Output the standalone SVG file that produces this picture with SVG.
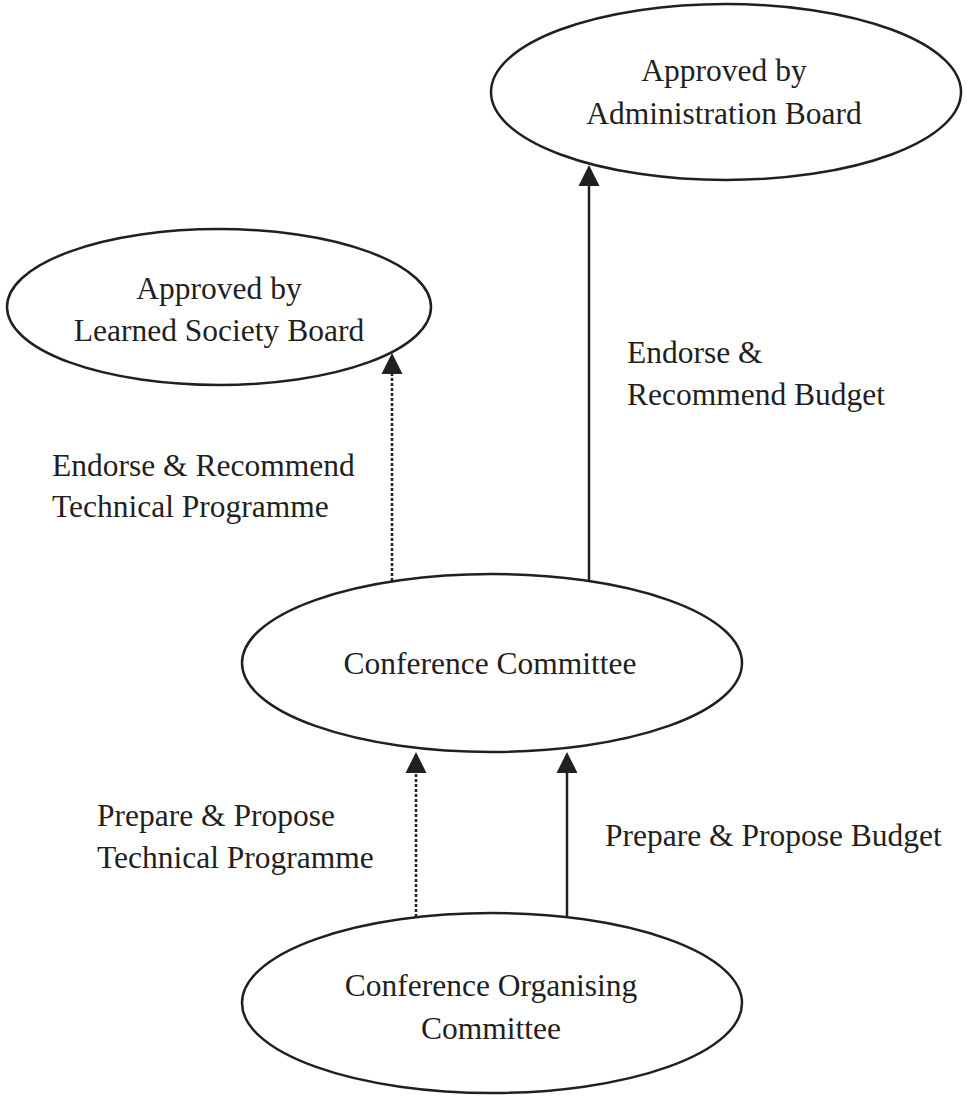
<svg xmlns="http://www.w3.org/2000/svg" width="967" height="1096" viewBox="0 0 967 1096">
<style>
.node{fill:#ffffff;stroke:#231f20;stroke-width:2.5}
.t{font-family:"Liberation Serif","Times New Roman",serif;font-size:31.5px;fill:#231f20}
.c{text-anchor:middle}
.solid{stroke:#231f20;stroke-width:2.5;fill:none}
.dot{stroke:#231f20;stroke-width:2.5;fill:none;stroke-dasharray:3 2}
</style>
<defs>
<marker id="ah" markerUnits="userSpaceOnUse" markerWidth="22" markerHeight="22" refX="0" refY="10.5" orient="auto" overflow="visible">
<path d="M0,0 L21,10.5 L0,21 z" fill="#231f20" stroke="none"/>
</marker>
</defs>
<rect width="967" height="1096" fill="#ffffff"/>
<g id="connectors">
<line class="dot" x1="392" y1="581" x2="392" y2="374" marker-end="url(#ah)"/>
<line class="solid" x1="589" y1="580" x2="589" y2="186" marker-end="url(#ah)"/>
<line class="dot" x1="416" y1="917" x2="416" y2="773" marker-end="url(#ah)"/>
<line class="solid" x1="567" y1="917" x2="567" y2="773" marker-end="url(#ah)"/>
<text class="t" x="627" y="363">Endorse &amp;</text>
<text class="t" x="627" y="405">Recommend Budget</text>
<text class="t" x="52" y="476">Endorse &amp; Recommend</text>
<text class="t" x="52" y="517">Technical Programme</text>
<text class="t" x="97" y="826">Prepare &amp; Propose</text>
<text class="t" x="97" y="868">Technical Programme</text>
<text class="t" x="605" y="846">Prepare &amp; Propose Budget</text>
</g>
<g id="admin-board">
<ellipse class="node" cx="726" cy="92" rx="235" ry="88"/>
<text class="t c" x="724" y="81">Approved by</text>
<text class="t c" x="724" y="124">Administration Board</text>
</g>
<g id="learned-society-board">
<ellipse class="node" cx="219" cy="307" rx="212" ry="78"/>
<text class="t c" x="219" y="299">Approved by</text>
<text class="t c" x="219" y="341">Learned Society Board</text>
</g>
<g id="conference-committee">
<ellipse class="node" cx="492" cy="663" rx="250" ry="89"/>
<text class="t c" x="490" y="674">Conference Committee</text>
</g>
<g id="organising-committee">
<ellipse class="node" cx="492" cy="1003" rx="250" ry="90"/>
<text class="t c" x="491" y="996">Conference Organising</text>
<text class="t c" x="491" y="1039">Committee</text>
</g>
</svg>
